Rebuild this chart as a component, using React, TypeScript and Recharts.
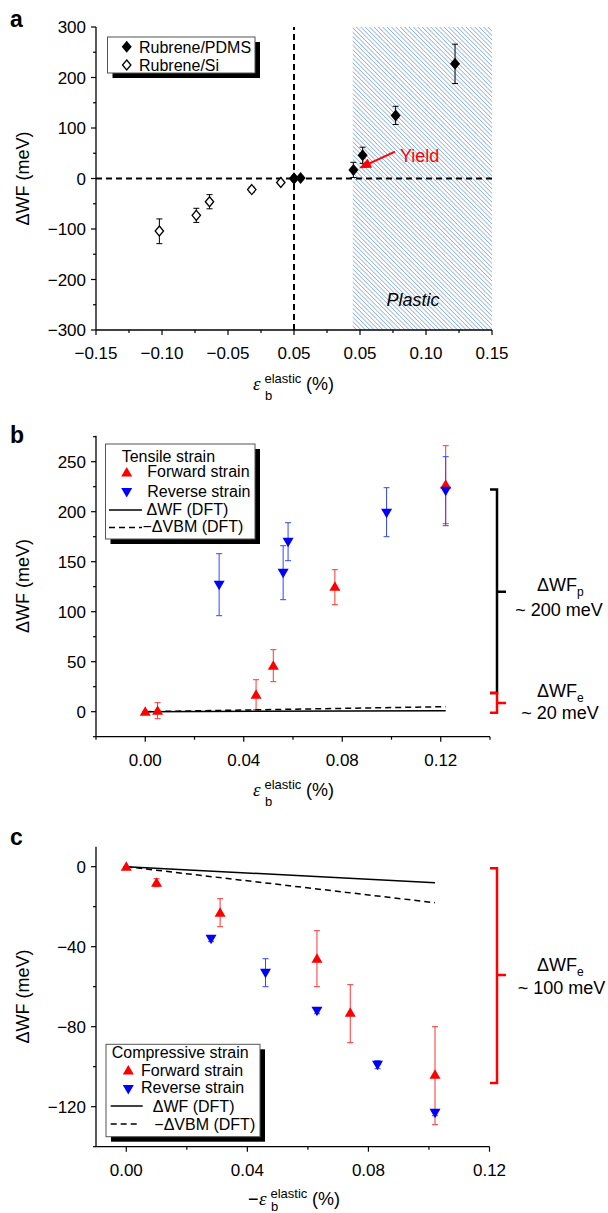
import React from 'react'
import { ScatterChart, Scatter, XAxis, YAxis, ErrorBar, ReferenceLine, ReferenceArea } from 'recharts'

const SANS = '"Liberation Sans", Arial, Helvetica, sans-serif'
const SERIF = '"Liberation Serif", "Times New Roman", serif'
const RED = '#ff0000'
const BLUE = '#0000ff'
const RED_ERR = '#ff3434'
const BLUE_ERR = '#3346ff'

// ---- panel a: rubrene on PDMS (tensile) and on Si (compressive)
const pdmsX = [0, 0.005, 0.045, 0.052, 0.077, 0.122]
const pdmsY = [0, 1, 17, 46, 125, 227]
const pdmsErrLo = [3, 3, 15, 16, 18, 39]
const pdmsErrHi = [3, 3, 15, 16, 18, 39]
const siX = [-0.102, -0.074, -0.064, -0.032, -0.01, 0]
const siY = [-104, -73, -46, -22, -8, 0]
const siErrLo = [25, 14, 14, 5, 3, 0]
const siErrHi = [24, 14, 14, 5, 3, 0]
const plasticStart = 0.0445
const aXTicks = [-0.15, -0.125, -0.1, -0.075, -0.05, -0.025, 0, 0.025, 0.05, 0.075, 0.1, 0.125, 0.15]
const aXLabels = ['−0.15', '', '−0.10', '', '−0.05', '', '0.05', '', '0.05', '', '0.10', '', '0.15']
const aYTicks = [-300, -250, -200, -150, -100, -50, 0, 50, 100, 150, 200, 250, 300]
const aYLabels = ['−300', '', '−200', '', '−100', '', '0', '', '100', '', '200', '', '300']

// ---- panel b: tensile strain
const bFwdX = [0, 0.005, 0.045, 0.052, 0.077, 0.122]
const bFwdY = [0, 1, 17, 46, 125, 227]
const bFwdErrLo = [0, 8, 15, 16, 18, 39]
const bFwdErrHi = [0, 8, 15, 16, 17, 39]
const bRevX = [0.03, 0.056, 0.058, 0.098, 0.122]
const bRevY = [127, 139, 170, 199, 221]
const bRevErrLo = [31, 27, 19, 24, 35]
const bRevErrHi = [31, 27, 19, 25, 34]
const bDftX = [0, 0.122]
const bDftWf = [0, 1]
const bDftVbm = [0, 5]
const bXTicks = [-0.02, 0, 0.02, 0.04, 0.06, 0.08, 0.1, 0.12, 0.14]
const bXLabels = ['', '0.00', '', '0.04', '', '0.08', '', '0.12', '']
const bYTicks = [-25, 0, 25, 50, 75, 100, 125, 150, 175, 200, 225, 250, 275]
const bYLabels = ['', '0', '', '50', '', '100', '', '150', '', '200', '', '250', '']

// ---- panel c: compressive strain
const cFwdX = [0, 0.01, 0.031, 0.063, 0.074, 0.102]
const cFwdY = [0, -8, -23, -46, -73, -104]
const cFwdErrLo = [0, 2, 7, 14, 15, 25]
const cFwdErrHi = [0, 2, 7, 14, 14, 24]
const cRevX = [0.028, 0.046, 0.063, 0.083, 0.102]
const cRevY = [-36, -53, -72, -99, -123]
const cRevErrLo = [1.5, 7, 1.5, 2, 1.5]
const cRevErrHi = [1.5, 7, 1.5, 2, 1.5]
const cDftX = [0, 0.102]
const cDftWf = [0, -8]
const cDftVbm = [0, -18]
const cXTicks = [0, 0.02, 0.04, 0.06, 0.08, 0.1, 0.12]
const cXLabels = ['0.00', '', '0.04', '', '0.08', '', '0.12']
const cYTicks = [-140, -120, -100, -80, -60, -40, -20, 0]
const cYLabels = ['', '−120', '', '−80', '', '−40', '', '0']

// twin top / right axes, inward ticks only
const frameTicks = [1, 2, 3, 4, 5, 6, 7, 8, 9]

const rows = (xs: number[], ys: number[], lo?: number[], hi?: number[]) =>
  xs.map((x, i) => ({ x, y: ys[i], err: lo && hi ? [lo[i], hi[i]] : undefined }))

const labelAt = (ticks: number[], labels: string[], v: number) => {
  const i = ticks.findIndex(t => Math.abs(t - v) < 1e-9)
  return i < 0 ? '' : labels[i]
}

const bottomTick = (ticks: number[], labels: string[]) => (p: any) => {
  const lab = labelAt(ticks, labels, p.payload.value)
  return (
    <g>
      <line x1={p.x} x2={p.x} y1={p.y} y2={p.y + (lab ? 5 : 3)} stroke="#000" strokeWidth={1.2} />
      {lab && (
        <text x={p.x} y={p.y + 29} textAnchor="middle" fontSize={17} fontFamily={SANS} fill="#000">
          {lab}
        </text>
      )}
    </g>
  )
}

const leftTick = (ticks: number[], labels: string[]) => (p: any) => {
  const lab = labelAt(ticks, labels, p.payload.value)
  return (
    <g>
      <line x1={p.x} x2={p.x - (lab ? 5 : 3)} y1={p.y} y2={p.y} stroke="#000" strokeWidth={1.2} />
      {lab && (
        <text x={p.x - 10} y={p.y + 6} textAnchor="end" fontSize={17} fontFamily={SANS} fill="#000">
          {lab}
        </text>
      )}
    </g>
  )
}

const topTick = (p: any) => <line x1={p.x} x2={p.x} y1={p.y} y2={p.y + 3} stroke="#000" strokeWidth={1} />
const rightTick = (p: any) => <line x1={p.x} x2={p.x - 3} y1={p.y} y2={p.y} stroke="#000" strokeWidth={1} />

// marker shapes
const filledDiamond = (p: any) => (
  <path d={`M${p.cx},${p.cy - 6}L${p.cx + 5},${p.cy}L${p.cx},${p.cy + 6}L${p.cx - 5},${p.cy}Z`} fill="#000" />
)
const openDiamond = (p: any) => (
  <path
    d={`M${p.cx},${p.cy - 5}L${p.cx + 4.2},${p.cy}L${p.cx},${p.cy + 5}L${p.cx - 4.2},${p.cy}Z`}
    fill="#fff"
    stroke="#000"
    strokeWidth={1.3}
  />
)
const triUp = (p: any) => (
  <path d={`M${p.cx},${p.cy - 5.5}L${p.cx + 5.5},${p.cy + 4}L${p.cx - 5.5},${p.cy + 4}Z`} fill={RED} />
)
const triDown = (p: any) => (
  <path d={`M${p.cx},${p.cy + 5.5}L${p.cx + 5.5},${p.cy - 4}L${p.cx - 5.5},${p.cy - 4}Z`} fill={BLUE} />
)
const noShape = () => <g />

const axisLine = { stroke: '#000', strokeWidth: 1.3 }

function frameAxes(xDomain: number[], yDomain: number[], xt: number[], xl: string[], yt: number[], yl: string[]) {
  return [
    <XAxis
      key="xb"
      dataKey="x"
      type="number"
      domain={xDomain}
      ticks={xt}
      interval={0}
      height={30}
      tickSize={0}
      tickMargin={0}
      tickLine={false}
      tick={bottomTick(xt, xl)}
      axisLine={axisLine}
      allowDataOverflow
    />,
    <XAxis
      key="xt"
      xAxisId="top"
      orientation="top"
      type="number"
      domain={[0, 10]}
      ticks={frameTicks}
      interval={0}
      height={0}
      tickSize={0}
      tickMargin={0}
      tickLine={false}
      tick={topTick}
      axisLine={axisLine}
    />,
    <YAxis
      key="yl"
      dataKey="y"
      type="number"
      domain={yDomain}
      ticks={yt}
      interval={0}
      width={60}
      tickSize={0}
      tickMargin={0}
      tickLine={false}
      tick={leftTick(yt, yl)}
      axisLine={axisLine}
      allowDataOverflow
    />,
    <YAxis
      key="yr"
      yAxisId="right"
      orientation="right"
      type="number"
      domain={[0, 10]}
      ticks={frameTicks}
      interval={0}
      width={0}
      tickSize={0}
      tickMargin={0}
      tickLine={false}
      tick={rightTick}
      axisLine={axisLine}
    />,
  ]
}

function StrainLabel({ x, y, minus, subDy = 10 }: { x: number; y: number; minus?: boolean; subDy?: number }) {
  const e = minus ? x + 11 : x
  return (
    <g fill="#000">
      {minus && (
        <text x={x} y={y} fontSize={18} fontFamily={SANS}>
          −
        </text>
      )}
      <text x={e} y={y} fontSize={19} fontFamily={SERIF} fontStyle="italic">
        ε
      </text>
      <text x={e + 11.5} y={y - 7} fontSize={13} fontFamily={SANS}>
        elastic
      </text>
      <text x={e + 12} y={y + subDy} fontSize={13} fontFamily={SANS}>
        b
      </text>
      <text x={e + 53} y={y} fontSize={18} fontFamily={SANS}>
        (%)
      </text>
    </g>
  )
}

function YTitle({ cy }: { cy: number }) {
  return (
    <text
      x={29}
      y={cy}
      transform={`rotate(-90 29 ${cy})`}
      textAnchor="middle"
      fontSize={18}
      fontFamily={SANS}
      fill="#000"
    >
      ΔWF (meV)
    </text>
  )
}

function LegendBox({ x, y, w, h }: { x: number; y: number; w: number; h: number }) {
  return (
    <g>
      <rect x={x + 5} y={y + 5} width={w} height={h} fill="#000" />
      <rect x={x} y={y} width={w} height={h} fill="#fff" stroke="#555" strokeWidth={1} />
    </g>
  )
}

function SubLabel({ x, y, sub }: { x: number; y: number; sub: string }) {
  return (
    <text x={x} y={y} fontSize={18} fontFamily={SANS} fill="#000">
      ΔWF
      <tspan fontSize={12} dy={5}>
        {sub}
      </tspan>
    </text>
  )
}

function Overlay() {
  const t = { fontSize: 16, fontFamily: SANS, fill: '#000' }
  const big = { fontSize: 18, fontFamily: SANS, fill: '#000' }
  return (
    <svg
      width={608}
      height={1213}
      style={{ position: 'absolute', left: 0, top: 0, pointerEvents: 'none' }}
    >
      {/* panel letters */}
      <text x={10} y={27} fontSize={23} fontWeight="bold" fontFamily={SANS}>a</text>
      <text x={10} y={443} fontSize={23} fontWeight="bold" fontFamily={SANS}>b</text>
      <text x={10} y={845} fontSize={23} fontWeight="bold" fontFamily={SANS}>c</text>

      <YTitle cy={178.5} />
      <YTitle cy={586} />
      <YTitle cy={996.5} />
      <StrainLabel x={253} y={389.5} />
      <StrainLabel x={253} y={796} />
      <StrainLabel x={248} y={1205} minus subDy={6} />

      {/* panel a legend + notes */}
      <LegendBox x={107.5} y={37} w={147.5} h={36} />
      {filledDiamond({ cx: 126.7, cy: 46.7 })}
      {openDiamond({ cx: 126.7, cy: 65 })}
      <text x={139} y={52.5} {...t}>Rubrene/PDMS</text>
      <text x={139} y={70.8} {...t}>Rubrene/Si</text>
      <text x={413} y={306} textAnchor="middle" fontStyle="italic" {...big}>Plastic</text>
      <text x={400} y={162} fontSize={18} fontFamily={SANS} fill={RED}>Yield</text>
      <line x1={395} y1={151.7} x2={369} y2={163.6} stroke={RED} strokeWidth={2} />
      <polygon points="359,168.3 372,167.8 367.8,158.8" fill={RED} />

      {/* panel b legend */}
      <LegendBox x={105.5} y={444} w={149.5} h={95} />
      <text x={121.7} y={461.7} {...t}>Tensile strain</text>
      {triUp({ cx: 126.7, cy: 472.5 })}
      {triDown({ cx: 126.7, cy: 492 })}
      <text x={147.3} y={477.3} {...t}>Forward strain</text>
      <text x={147.3} y={496.7} {...t}>Reverse strain</text>
      <line x1={109} x2={142} y1={510} y2={510} stroke="#000" strokeWidth={1.5} />
      <text x={146.5} y={515} {...t}>ΔWF (DFT)</text>
      <line x1={109} x2={142} y1={527.5} y2={527.5} stroke="#000" strokeWidth={1.5} strokeDasharray="6 4" />
      <text x={142.5} y={531.7} {...t}>−ΔVBM (DFT)</text>

      {/* panel b brackets */}
      <path d="M490,489.5H497V693H490M497,591.7H506" fill="none" stroke="#000" strokeWidth={2.5} />
      <path d="M490,693H497V712.7H490M497,703H506" fill="none" stroke={RED} strokeWidth={2.5} />
      <SubLabel x={537} y={591} sub="p" />
      <text x={559} y={616} textAnchor="middle" {...big}>~ 200 meV</text>
      <SubLabel x={537} y={697} sub="e" />
      <text x={560} y={719} textAnchor="middle" {...big}>~ 20 meV</text>

      {/* panel c legend */}
      <LegendBox x={106} y={1044.3} w={154} h={92.4} />
      <text x={111.7} y={1057.7} {...t}>Compressive strain</text>
      {triUp({ cx: 128.3, cy: 1070.5 })}
      {triDown({ cx: 128.3, cy: 1089 })}
      <text x={141} y={1075.7} {...t}>Forward strain</text>
      <text x={141} y={1093.3} {...t}>Reverse strain</text>
      <line x1={110.7} x2={142.7} y1={1106} y2={1106} stroke="#000" strokeWidth={1.5} />
      <text x={152.7} y={1111.7} {...t}>ΔWF (DFT)</text>
      <line x1={110.7} x2={140} y1={1124} y2={1124} stroke="#000" strokeWidth={1.5} strokeDasharray="6 4" />
      <text x={154.3} y={1130} {...t}>−ΔVBM (DFT)</text>

      {/* panel c bracket */}
      <path d="M490,868.3H497V1083H490M497,975H506" fill="none" stroke={RED} strokeWidth={2.5} />
      <SubLabel x={537} y={971} sub="e" />
      <text x={561.5} y={994} textAnchor="middle" {...big}>~ 100 meV</text>
    </svg>
  )
}

export default function App() {
  const pdms = rows(pdmsX, pdmsY, pdmsErrLo, pdmsErrHi)
  const si = rows(siX, siY, siErrLo, siErrHi)
  const bFwd = rows(bFwdX, bFwdY, bFwdErrLo, bFwdErrHi)
  const bRev = rows(bRevX, bRevY, bRevErrLo, bRevErrHi)
  const cFwd = rows(cFwdX, cFwdY, cFwdErrLo, cFwdErrHi)
  const cRev = rows(cRevX, cRevY, cRevErrLo, cRevErrHi)

  return (
    <div
      style={{
        position: 'absolute',
        left: 0,
        top: 0,
        width: 608,
        height: 1213,
        background: '#fff',
        fontFamily: SANS,
        overflow: 'hidden',
      }}
    >
      <svg width={0} height={0} style={{ position: 'absolute' }}>
        <defs>
          <pattern id="hatch" width={3.1} height={3.1} patternUnits="userSpaceOnUse" patternTransform="rotate(-45)">
            <rect width={3.1} height={3.1} fill="#fff" />
            <line x1={0} y1={0} x2={0} y2={3.1} stroke="#7ea4d8" strokeWidth={1.4} />
          </pattern>
        </defs>
      </svg>

      <div style={{ position: 'absolute', left: 0, top: 0 }}>
        <ScatterChart width={608} height={400} margin={{ top: 27, right: 116, bottom: 40, left: 36 }}>
          {frameAxes([-0.15, 0.15], [-300, 300], aXTicks, aXLabels, aYTicks, aYLabels)}
          <ReferenceArea x1={plasticStart} x2={0.15} y1={-300} y2={300} fill="url(#hatch)" fillOpacity={1} stroke="none" />
          <ReferenceLine x={0} stroke="#000" strokeWidth={2} strokeDasharray="6 4" />
          <ReferenceLine y={0} stroke="#000" strokeWidth={2} strokeDasharray="6 4" />
          <Scatter data={si} shape={openDiamond} isAnimationActive={false}>
            <ErrorBar dataKey="err" direction="y" width={3} stroke="#000" strokeWidth={1} />
          </Scatter>
          <Scatter data={pdms} shape={filledDiamond} isAnimationActive={false}>
            <ErrorBar dataKey="err" direction="y" width={3} stroke="#000" strokeWidth={1} />
          </Scatter>
        </ScatterChart>
      </div>

      <div style={{ position: 'absolute', left: 0, top: 400 }}>
        <ScatterChart width={608} height={400} margin={{ top: 35.7, right: 118, bottom: 33.3, left: 36 }}>
          {frameAxes([-0.02, 0.14], [-25, 276], bXTicks, bXLabels, bYTicks, bYLabels)}
          <Scatter
            data={rows(bDftX, bDftWf)}
            line={{ stroke: '#000', strokeWidth: 1.5 }}
            shape={noShape}
            isAnimationActive={false}
          />
          <Scatter
            data={rows(bDftX, bDftVbm)}
            line={{ stroke: '#000', strokeWidth: 1.5, strokeDasharray: '6 4' }}
            shape={noShape}
            isAnimationActive={false}
          />
          <Scatter data={bFwd} shape={triUp} isAnimationActive={false}>
            <ErrorBar dataKey="err" direction="y" width={3} stroke={RED_ERR} strokeWidth={1} />
          </Scatter>
          <Scatter data={bRev} shape={triDown} isAnimationActive={false}>
            <ErrorBar dataKey="err" direction="y" width={3} stroke={BLUE_ERR} strokeWidth={1} />
          </Scatter>
        </ScatterChart>
      </div>

      <div style={{ position: 'absolute', left: 0, top: 800 }}>
        <ScatterChart width={608} height={413} margin={{ top: 46.7, right: 118.5, bottom: 36.3, left: 36 }}>
          {frameAxes([-0.01, 0.12], [-140, 10], cXTicks, cXLabels, cYTicks, cYLabels)}
          <Scatter
            data={rows(cDftX, cDftWf)}
            line={{ stroke: '#000', strokeWidth: 1.5 }}
            shape={noShape}
            isAnimationActive={false}
          />
          <Scatter
            data={rows(cDftX, cDftVbm)}
            line={{ stroke: '#000', strokeWidth: 1.5, strokeDasharray: '6 4' }}
            shape={noShape}
            isAnimationActive={false}
          />
          <Scatter data={cFwd} shape={triUp} isAnimationActive={false}>
            <ErrorBar dataKey="err" direction="y" width={3} stroke={RED_ERR} strokeWidth={1} />
          </Scatter>
          <Scatter data={cRev} shape={triDown} isAnimationActive={false}>
            <ErrorBar dataKey="err" direction="y" width={3} stroke={BLUE_ERR} strokeWidth={1} />
          </Scatter>
        </ScatterChart>
      </div>

      <Overlay />
    </div>
  )
}
